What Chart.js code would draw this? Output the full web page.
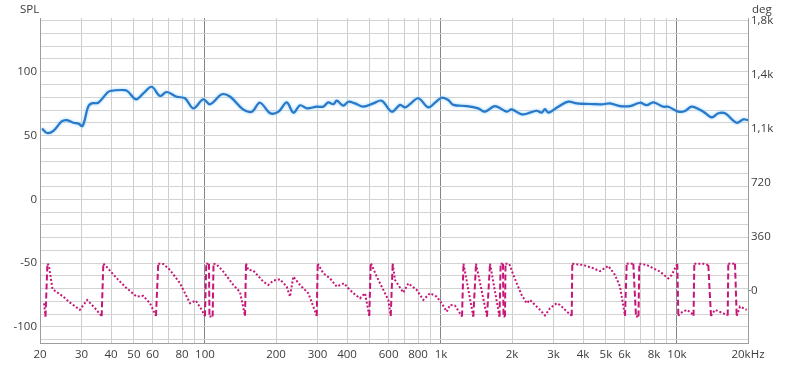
<!DOCTYPE html>
<html><head><meta charset="utf-8">
<script src="https://cdn.jsdelivr.net/npm/chart.js@4.4.1/dist/chart.umd.min.js"></script>
<style>html,body{margin:0;padding:0;background:#fff;overflow:hidden}canvas{display:block}</style>
</head><body>
<canvas id="c" width="800" height="369"></canvas>
<script>
// ---- data ----
const splFreq = [20.4,21.4,22.8,24.7,26.0,27.7,29.1,30.3,32.0,33.1,
  35.3,38.3,39.6,45.8,47.3,51.0,54.8,59.5,64.5,68.8,
  75.9,82.3,89.3,98.4,105,118,128,145,158,171,
  189,205,222,237,253,270,298,317,333,350,
  362,386,405,432,469,517,561,619,671,704,
  739,802,884,944,1007,1074,1128,1286,1439,1537,
  1694,1899,1994,2199,2384,2545,2672,2760,2850,3142,
  3464,3762,4422,4876,5204,5738,6325,6974,7444,7938,
  8754,9192,10134,10818,11548,12932,14040,14974,15980,17910,
  19104,20000];
const splDb = [55.5,52,53.7,61,62.1,60,59.3,57.5,72.6,75.2,
  75.7,83,84.9,85.6,84.3,78.4,83,88.2,81,84.1,
  80.4,79.2,71.3,78.4,74.5,82.3,80.4,70.5,68.7,75.7,
  67.4,68.7,76,67.9,73.7,71.3,72.6,72.6,76,74.5,
  77.3,73.4,76.5,75.2,72.6,75.2,77.3,68.7,74,72,
  74.6,79.2,72.1,75.7,79.6,77.8,74,73.1,71.3,68.7,
  73.1,68.7,70.5,66.6,67.9,69.4,67.9,70.7,67.9,72.6,
  76.5,75.2,74.6,74.5,75.2,73.1,73.1,75.7,73.8,76,
  72.6,72.6,68.7,69.2,72.6,68.7,64.2,67.4,67.4,60,
  62.7,62];

const phaseFreq = [20.8,21.1,21.5,21.8,22.6,25.1,26.8,29.5,31.7,34.2,
  36.5,37.1,37.7,42.3,46.6,51.4,54.8,58.5,62.0,63.4,
  66.6,71.1,78.4,86.4,91.4,96.9,100.0,101.3,104.0,104.5,
  107.8,108.7,112.1,119.6,131.9,140.8,147.8,149.3,152.6,160.3,
  176.7,185.6,194.8,207.9,222.0,229.2,236.8,252.7,274.2,297.6,
  300.4,317.3,338.8,361.6,388.4,405.1,425.2,453.9,476.6,497.0,
  503.9,508.8,534.3,569.9,598.3,612.5,624.6,638.7,692.5,727.2,
  789.3,842.0,898.7,959.4,1007,1058,1093,1147,1228,1246,
  1371,1408,1567,1614,1770,1791,1832,1841,1868,1877,
  1948,2026,2094,2198,2309,2384,2503,2628,2760,2898,
  3094,3195,3355,3581,3602,4010,4422,4721,5118,5464,
  5738,6024,6124,6532,6706,6871,6925,7444,7938,8474,
  9192,9502,9812,10034,10134,10302,11001,11548,11754,11846,
  12932,13579,13939,14496,15716,16408,16503,17618,17910,18497,
  19748];
const phaseDeg = [-85,-172,180,170,10,-40,-80,-128,-62,-117,
  -170,180,171,82,16,-40,-35,-84,-168,180,
  178,138,49,-84,-66,-128,-170,180,180,-172,
  -172,180,175,127,38,-10,-168,180,138,134,
  60,38,67,76,27,-40,94,38,-17,-168,
  180,116,82,27,49,16,-17,-51,-17,-168,
  180,171,94,5,-62,-168,180,71,-13,49,
  5,-62,-17,-40,-84,-140,-95,-100,-172,180,
  -172,180,-172,180,-172,180,180,-172,-172,180,
  178,105,49,-29,-84,-62,-95,-128,-165,-117,
  -84,-95,-128,-168,180,171,149,130,165,105,
  27,-168,180,180,-172,-172,180,171,149,127,
  82,105,149,180,-168,-151,-128,-151,-168,180,
  180,171,-168,-128,-151,-165,180,180,-168,-106,
  -128];

const xGridValues = [20,30,40,50,60,70,80,90,100,200,300,400,500,600,700,800,900,
  1000,2000,3000,4000,5000,6000,7000,8000,9000,10000,20000];
const xLabelValues = [20,30,40,50,60,80,100,200,300,400,600,800,1000,2000,3000,4000,5000,6000,8000,10000,20000];
const xLabelTexts = ['20','30','40','50','60','80','100','200','300','400','600','800','1k','2k','3k','4k','5k','6k','8k','10k','20kHz'];
const xDecadeValues = [100,1000,10000];
const splGridValues = [-110,-100,-90,-80,-70,-60,-50,-40,-30,-20,-10,0,10,20,30,40,50,60,70,80,90,100,110,120,130,140];
const splLabelValues = [-100,-50,0,50,100];
const degTickValues = [0,360,720,1080,1440,1800];
const degTickLabels = ['0','360','720','1,1k','1,4k','1,8k'];

// ---- chart ----
const FONT = {family:'"Open Sans", "Noto Sans", sans-serif', size:11.5};
const TXT = '#3c3c3c';

const titles = {id:'titles', afterDraw(chart){
  const c = chart.ctx; c.save();
  c.font = '11.5px "Open Sans", "Noto Sans", sans-serif';
  c.fillStyle = TXT; c.textAlign = 'left'; c.textBaseline = 'alphabetic';
  c.fillText('SPL', 20, 13);
  c.fillText('deg', 752, 13);
  c.restore();
}};
const glow = {id:'glow',
  beforeDatasetDraw(chart, args){ if(args.index===0){ const c=chart.ctx; c.save(); c.shadowColor='rgba(120,200,255,0.9)'; c.shadowBlur=3; } },
  afterDatasetDraw(chart, args){ if(args.index===0){ chart.ctx.restore(); } }
};

new Chart(document.getElementById('c'), {
  type:'line',
  data:{datasets:[
    {data: splFreq.map((f,i)=>({x:f,y:splDb[i]})), yAxisID:'y',
     borderColor:'#2a78c8', borderWidth:2.2, pointRadius:0, tension:0.35, fill:false},
    {data: phaseFreq.map((f,i)=>({x:f,y:phaseDeg[i]})), yAxisID:'y2',
     borderColor:'rgb(198,22,120)', borderWidth:2, pointRadius:0, tension:0, fill:false,
     borderDash:[2,2],
     segment:{borderDash: c => (Math.abs(c.p1.parsed.y - c.p0.parsed.y) > 250 && Math.abs(c.p1.x - c.p0.x) < 4) ? [6,3] : [2,2]}}
  ]},
  options:{
    responsive:false, animation:false, devicePixelRatio:1,
    layout:{padding:{top:18,left:0,right:0,bottom:0}},
    plugins:{legend:{display:false}, tooltip:{enabled:false}},
    scales:{
      x:{type:'logarithmic', min:20, max:20000,
        afterBuildTicks: s => { s.ticks = xGridValues.map(v=>({value:v})); },
        afterFit: s => { s.height = 26; },
        ticks:{autoSkip:false, maxRotation:0, minRotation:0, padding:5, color:TXT, font:FONT,
          callback: v => { const i = xLabelValues.indexOf(Number(v)); return i>=0 ? xLabelTexts[i] : ''; }},
        grid:{drawTicks:false, lineWidth:1,
          color: c => (c.tick && xDecadeValues.includes(c.tick.value)) ? '#858585' : '#cdcdcd'},
        border:{color:'#9d9d9d'}
      },
      y:{position:'left', min:-112.6, max:142.1,
        afterBuildTicks: s => { s.ticks = splGridValues.map(v=>({value:v})); },
        afterFit: s => { s.width = 40; },
        ticks:{autoSkip:false, padding:3, color:TXT, font:FONT,
          callback: v => splLabelValues.includes(v) ? String(v) : ''},
        grid:{drawTicks:false, color:'#d3d3d3', lineWidth:1},
        border:{color:'#9d9d9d'}
      },
      y2:{position:'right', min:-349, max:1818,
        afterBuildTicks: s => { s.ticks = degTickValues.map(v=>({value:v})); },
        afterFit: s => { s.width = 52; },
        ticks:{autoSkip:false, padding:0, color:TXT, font:FONT,
          callback: v => { const i = degTickValues.indexOf(v); return i>=0 ? degTickLabels[i] : ''; }},
        grid:{drawOnChartArea:false, drawTicks:true, tickLength:3,
          color: c => (c.tick && c.tick.value===0) ? '#888888' : 'rgba(0,0,0,0)'},
        border:{color:'#9d9d9d'}
      }
    }
  },
  plugins:[titles, glow]
});
</script>
</body></html>
